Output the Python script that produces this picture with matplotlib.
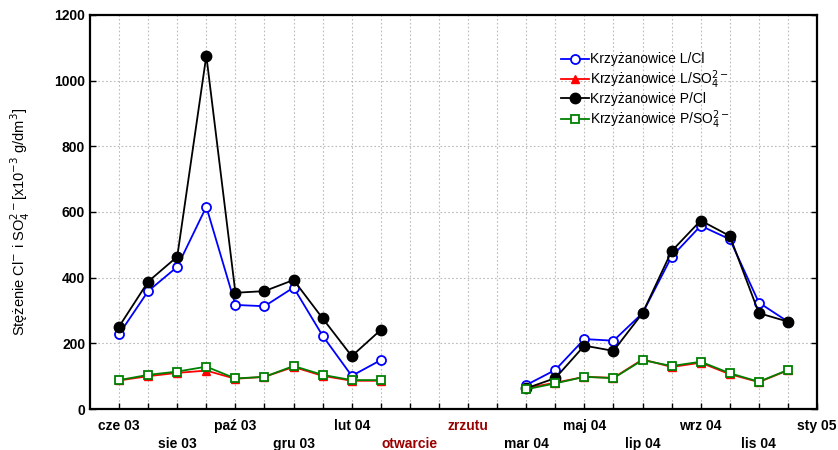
import numpy as np
import matplotlib.pyplot as plt

plt.rcParams['font.family'] = ['Liberation Sans', 'DejaVu Sans']

# etykiety osi X (co drugi miesiąc), pozycje miesięcy 0..24
month_labels = ['cze 03', 'sie 03', 'paź 03', 'gru 03', 'lut 04', 'otwarcie', 'zrzutu',
                'mar 04', 'maj 04', 'lip 04', 'wrz 04', 'lis 04', 'sty 05']
red_labels = ['otwarcie', 'zrzutu']

# pomiary - dwa okresy (przerwa w środku)
x_a = [0, 1, 2, 3, 4, 5, 6, 7, 8, 9]
x_b = [14, 15, 16, 17, 18, 19, 20, 21, 22, 23]

l_cl_a = [228, 359, 433, 616, 317, 313, 370, 223, 101, 149]
l_cl_b = [73, 119, 213, 208, 292, 464, 558, 517, 324, 266]

l_so4_a = [87, 100, 110, 117, 92, 98, 128, 101, 86, 86]
l_so4_b = [64, 80, 98, 95, 151, 128, 141, 106, 82, 118]

p_cl_a = [251, 388, 464, 1076, 354, 359, 393, 276, 161, 241]
p_cl_b = [63, 94, 193, 177, 292, 481, 574, 527, 292, 266]

p_so4_a = [88, 104, 114, 129, 93, 98, 131, 104, 88, 88]
p_so4_b = [60, 78, 98, 94, 149, 131, 144, 109, 83, 119]

series = [
    ('Krzyżanowice L/Cl', l_cl_a, l_cl_b, dict(color='#0000ff', marker='o', mfc='white', ms=6.5, mew=1.3)),
    ('Krzyżanowice L/SO$_4^{2-}$', l_so4_a, l_so4_b, dict(color='#ff0000', marker='^', mfc='#ff0000', ms=5.5)),
    ('Krzyżanowice P/Cl', p_cl_a, p_cl_b, dict(color='black', marker='o', mfc='black', ms=7.5)),
    ('Krzyżanowice P/SO$_4^{2-}$', p_so4_a, p_so4_b, dict(color='#008000', marker='s', mfc='white', ms=6, mew=1.3)),
]

fig = plt.figure(figsize=(8.38, 4.5), dpi=100)
ax = fig.add_axes([0.1074, 0.0911, 0.8676, 0.8756])

for name, ya, yb, style in series:
    xs = x_a + [np.nan] + x_b
    ys = ya + [np.nan] + yb
    ax.plot(xs, ys, lw=1.3, label=name, **style)

ax.set_xlim(-1, 24)
ax.set_ylim(0, 1200)
ax.set_yticks(np.arange(0, 1201, 200))

# wszystkie miesiące jako ticki, podpisy co drugi, naprzemiennie w dwóch rzędach
ticks = np.arange(0, 25)
labels = [''] * len(ticks)
for i, lab in enumerate(month_labels):
    labels[2 * i] = lab if i % 2 == 0 else '\n' + lab
ax.set_xticks(ticks)
ax.set_xticklabels(labels, fontweight='bold', fontsize=10, linespacing=1.35)
for t in ax.get_xticklabels():
    if t.get_text().strip() in red_labels:
        t.set_color('#990000')

for t in ax.get_yticklabels():
    t.set_fontweight('bold')
    t.set_fontsize(10)

ax.tick_params(axis='x', direction='in', length=4, width=1, pad=7, top=False)
ax.tick_params(axis='y', direction='out', length=4, width=1, right=False)
ax.tick_params(axis='y', which='major', right=True, direction='in')

ax.grid(True, linestyle=(0, (1.5, 2)), color='#bbbbbb', lw=0.8)
for s in ax.spines.values():
    s.set_linewidth(1.6)

ax.set_ylabel('Stężenie Cl$^{-}$ i SO$_4^{2-}$[x10$^{-3}$ g/dm$^3$]', fontsize=10.5)
ax.yaxis.set_label_coords(-0.08, 0.475)

ax.legend(loc='upper left', bbox_to_anchor=(0.648, 0.905), frameon=False, fontsize=10,
          handlelength=2, handletextpad=0.1, labelspacing=0.12, borderaxespad=0,
          borderpad=0)

fig.savefig('out.png', dpi=100)
